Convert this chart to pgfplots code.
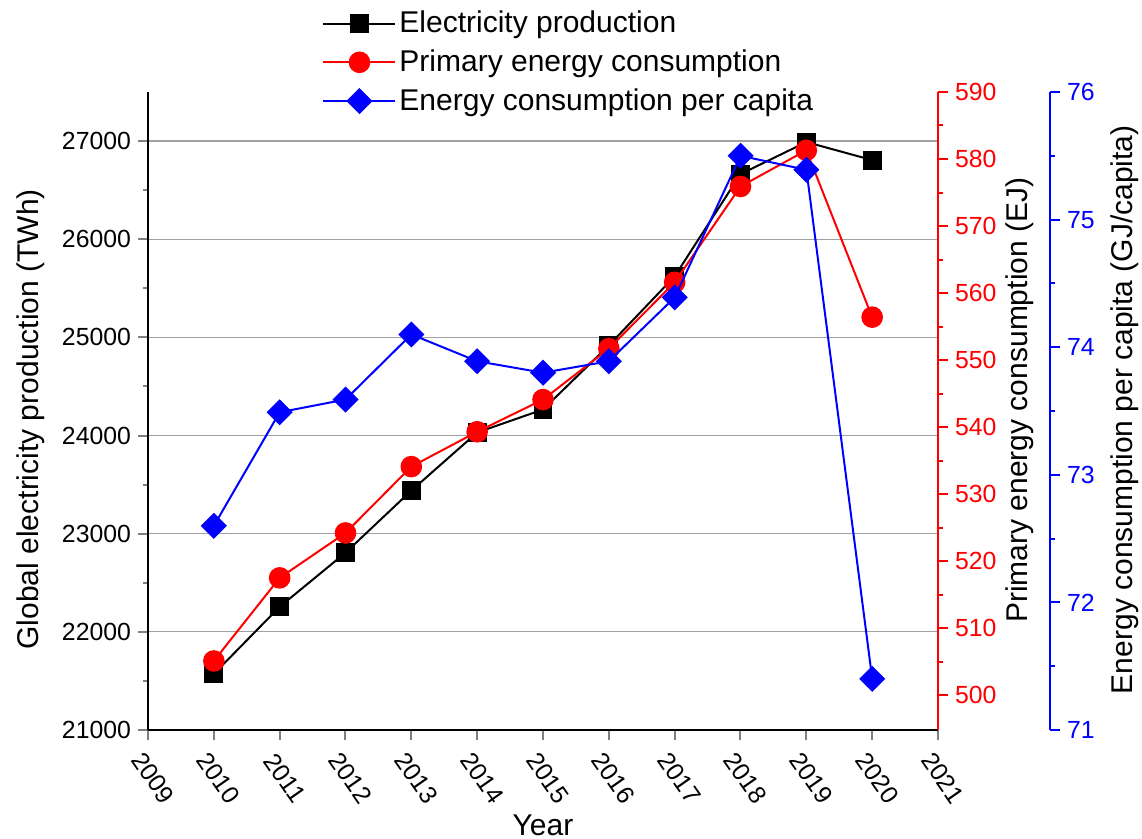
\documentclass[border=0pt]{standalone}
\usepackage{fontspec}
\setmainfont{Liberation Sans}
\usepackage{pgfplots}
\pgfplotsset{compat=1.18}
\definecolor{gridgray}{RGB}{160,160,160}
\begin{document}
\begin{tikzpicture}
\pgfplotsset{
  common/.style={
    scale only axis, at={(0,0)}, anchor=south west,
    height=319pt,
    xmin=2009,
    clip=false,
    scaled ticks=false,
    tick align=outside,
    major tick length=5pt, minor tick length=2.5pt,
    /pgf/number format/assume math mode=true,
    /pgf/number format/1000 sep={},
    tick label style={font=\fontsize{12.4}{14}\selectfont},
    every tick/.append style={line width=1pt},
    axis line style={line width=1pt},
  },
  legend image code/.code={\draw[mark repeat=2,mark phase=2,#1] plot coordinates {(0pt,0pt) (18pt,0pt) (36pt,0pt)};},
}
% Left axis: electricity production
\begin{axis}[common,
  width=395pt, xmax=2021,
  ymin=21000, ymax=27500,
  axis y line*=left, axis x line*=bottom,
  xtick={2009,...,2021}, minor x tick num=1,
  ytick={21000,22000,...,27000}, minor y tick num=1,
  ymajorgrids, major grid style={gridgray, line width=0.6pt},
  xticklabel style={yshift=-19pt, xshift=2.5pt, rotate=-55, anchor=center},
  every axis x label/.style={at={(axis description cs:0.5,-0.149)}, anchor=center, font=\fontsize{15}{18}\selectfont},
  every axis y label/.style={at={(axis description cs:-0.149,0.487)}, rotate=90, anchor=center, font=\fontsize{15}{18}\selectfont},
  xlabel={Year},
  ylabel={Global electricity production (TWh)},
]
\addplot[black, line width=1pt, mark=square*, mark size=4.2pt] coordinates {
(2010,21571) (2011,22255) (2012,22806) (2013,23439) (2014,24031) (2015,24265)
(2016,24918) (2017,25622) (2018,26663) (2019,26990) (2020,26806)};
\end{axis}
% Red axis: primary energy consumption
\begin{axis}[common,
  width=395pt, xmax=2021,
  ymin=494.8, ymax=590,
  hide x axis,
  axis y line*=right,
  y axis line style={red},
  every tick/.append style={red},
  yticklabel style={red},
  ytick={500,510,...,590}, minor y tick num=1,
  every axis y label/.style={at={(axis description cs:1.104,0.517)}, rotate=90, anchor=center, font=\fontsize{15}{18}\selectfont},
  ylabel={Primary energy consumption (EJ)},
]
\addplot[red, line width=1pt, mark=*, mark size=4.9pt] coordinates {
(2010,505.1) (2011,517.5) (2012,524.2) (2013,534.1) (2014,539.3) (2015,544.1)
(2016,551.7) (2017,561.6) (2018,575.9) (2019,581.3) (2020,556.4)};
\end{axis}
% Blue axis: per capita
\begin{axis}[common,
  width=451pt, xmax=2022.70,
  ymin=71, ymax=76,
  hide x axis,
  axis y line*=right,
  y axis line style={blue},
  every tick/.append style={blue},
  yticklabel style={blue},
  ytick={71,...,76}, minor y tick num=1,
  every axis y label/.style={at={(axis description cs:1.0831,0.502)}, rotate=90, anchor=center, font=\fontsize{15}{18}\selectfont},
  ylabel={Energy consumption per capita (GJ/capita)},
  legend style={at={(axis description cs:0.193,1.132)}, anchor=north west, draw=none, fill=none,
    inner sep=0pt, row sep=4pt, font=\fontsize{15}{18}\selectfont, nodes={inner sep=1.5pt}},
  legend cell align=left,
]
\addlegendimage{black, line width=1pt, mark=square*, mark size=4.2pt}
\addlegendentry{Electricity production}
\addlegendimage{red, line width=1pt, mark=*, mark size=4.9pt}
\addlegendentry{Primary energy consumption}
\addplot[blue, line width=1pt, mark=square*, mark size=4.1pt, mark options={rotate=45}] coordinates {
(2010,72.60) (2011,73.49) (2012,73.59) (2013,74.10) (2014,73.89) (2015,73.80)
(2016,73.89) (2017,74.39) (2018,75.50) (2019,75.39) (2020,71.40)};
\addlegendentry{Energy consumption per capita}
\end{axis}
\pgfresetboundingbox
\path (-74pt,-54.5pt) rectangle (497pt,365pt);
\end{tikzpicture}
\end{document}
